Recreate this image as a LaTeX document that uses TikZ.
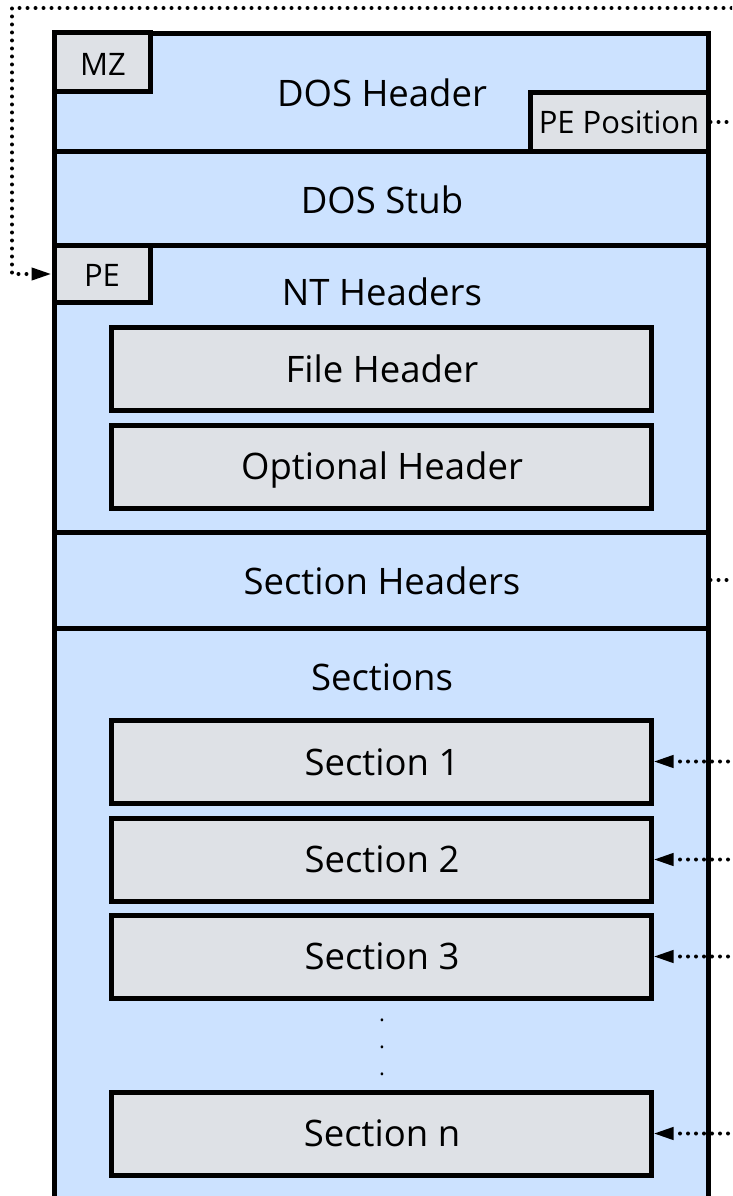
\documentclass[tikz,border=0pt]{standalone}
\usepackage{fontspec}
\setmainfont{Open Sans}
\usetikzlibrary{arrows.meta}
\definecolor{pblue}{HTML}{CCE2FF}
\definecolor{pgray}{HTML}{DEE1E6}
\begin{document}
\begin{tikzpicture}[x=1pt,y=-1pt,
  region/.style={draw=black,line width=5pt,fill=pblue,rectangle,inner sep=0pt},
  inbox/.style={draw=black,line width=5pt,fill=pgray,rectangle,inner sep=0pt},
  lbl/.style={font=\fontsize{36.5}{40}\selectfont,anchor=base,inner sep=0pt},
  slbl/.style={font=\fontsize{31}{36}\selectfont,anchor=base,inner sep=0pt},
  dotsym/.style={font=\fontsize{22}{24}\selectfont,anchor=base,inner sep=0pt},
  dotl/.style={line width=4pt,line cap=round,dash pattern=on 0pt off 8pt},
  tip/.style={-{Triangle[length=20pt,width=12pt]}}
]
\useasboundingbox (0,0) rectangle (732,1196);
\clip (0,0) rectangle (732,1196);
% regions
\node[region,minimum width=654pt,minimum height=118.5pt] (dosh) at (381,92.5) {};
\node[region,minimum width=654pt,minimum height=94pt] (stub) at (381,198.5) {};
\node[region,minimum width=654pt,minimum height=287pt] (nt) at (381,389) {};
\node[region,minimum width=654pt,minimum height=96pt] (sh) at (381,580) {};
\node[region,minimum width=654pt,minimum height=600pt] (sec) at (381,928) {};
% small boxes
\node[inbox,minimum width=96pt,minimum height=59pt] (mz) at (102,62.5) {};
\node[inbox,minimum width=178pt,minimum height=59pt] (pepos) at (619,122) {};
\node[inbox,minimum width=96pt,minimum height=57pt] (pe) at (102,274) {};
% inner boxes
\node[inbox,minimum width=540pt,minimum height=83pt] (fh) at (381,368.5) {};
\node[inbox,minimum width=540pt,minimum height=83pt] (oh) at (381,466.5) {};
\node[inbox,minimum width=540pt,minimum height=83pt] (s1) at (381,761.5) {};
\node[inbox,minimum width=540pt,minimum height=83pt] (s2) at (381,859.5) {};
\node[inbox,minimum width=540pt,minimum height=83pt] (s3) at (381,956.5) {};
\node[inbox,minimum width=540pt,minimum height=83pt] (sn) at (381,1133.5) {};
% texts
\node[lbl] (tdosh) at (382,107) {DOS Header};
\node[lbl] (tstub) at (382,213) {DOS Stub};
\node[lbl] (tnt) at (382,305) {NT Headers};
\node[lbl] (tfh) at (382,382) {File Header};
\node[lbl] (toh) at (382,479) {Optional Header};
\node[lbl] (tsh) at (382,594) {Section Headers};
\node[lbl] (tsec) at (382,690) {Sections};
\node[lbl] (ts1) at (382,775) {Section 1};
\node[lbl] (ts2) at (382,872) {Section 2};
\node[lbl] (ts3) at (382,969) {Section 3};
\node[lbl] (tsn) at (382,1146) {Section n};
\node[slbl] (tmz) at (103,76) {MZ};
\node[slbl] (tpe) at (102,286) {PE};
\node[slbl] (tpepos) at (619,134) {PE Position};
\node[dotsym] (d1) at (382,1021) {.};
\node[dotsym] (d2) at (382,1048) {.};
\node[dotsym] (d3) at (382,1075) {.};
% connectors
\coordinate (rtop) at (760,8);
\coordinate (ltop) at (12,8);
\coordinate (rx) at (760,0);
\draw[dotl,tip] (pepos.east) -| (rtop) -- (ltop) |- (pe.west);
\draw[dotl] (sh.east) -- (sh.east -| rx);
\draw[dotl,tip] (s1.east -| rx) -- (s1.east);
\draw[dotl,tip] (s2.east -| rx) -- (s2.east);
\draw[dotl,tip] (s3.east -| rx) -- (s3.east);
\draw[dotl,tip] (sn.east -| rx) -- (sn.east);
\end{tikzpicture}
\end{document}
